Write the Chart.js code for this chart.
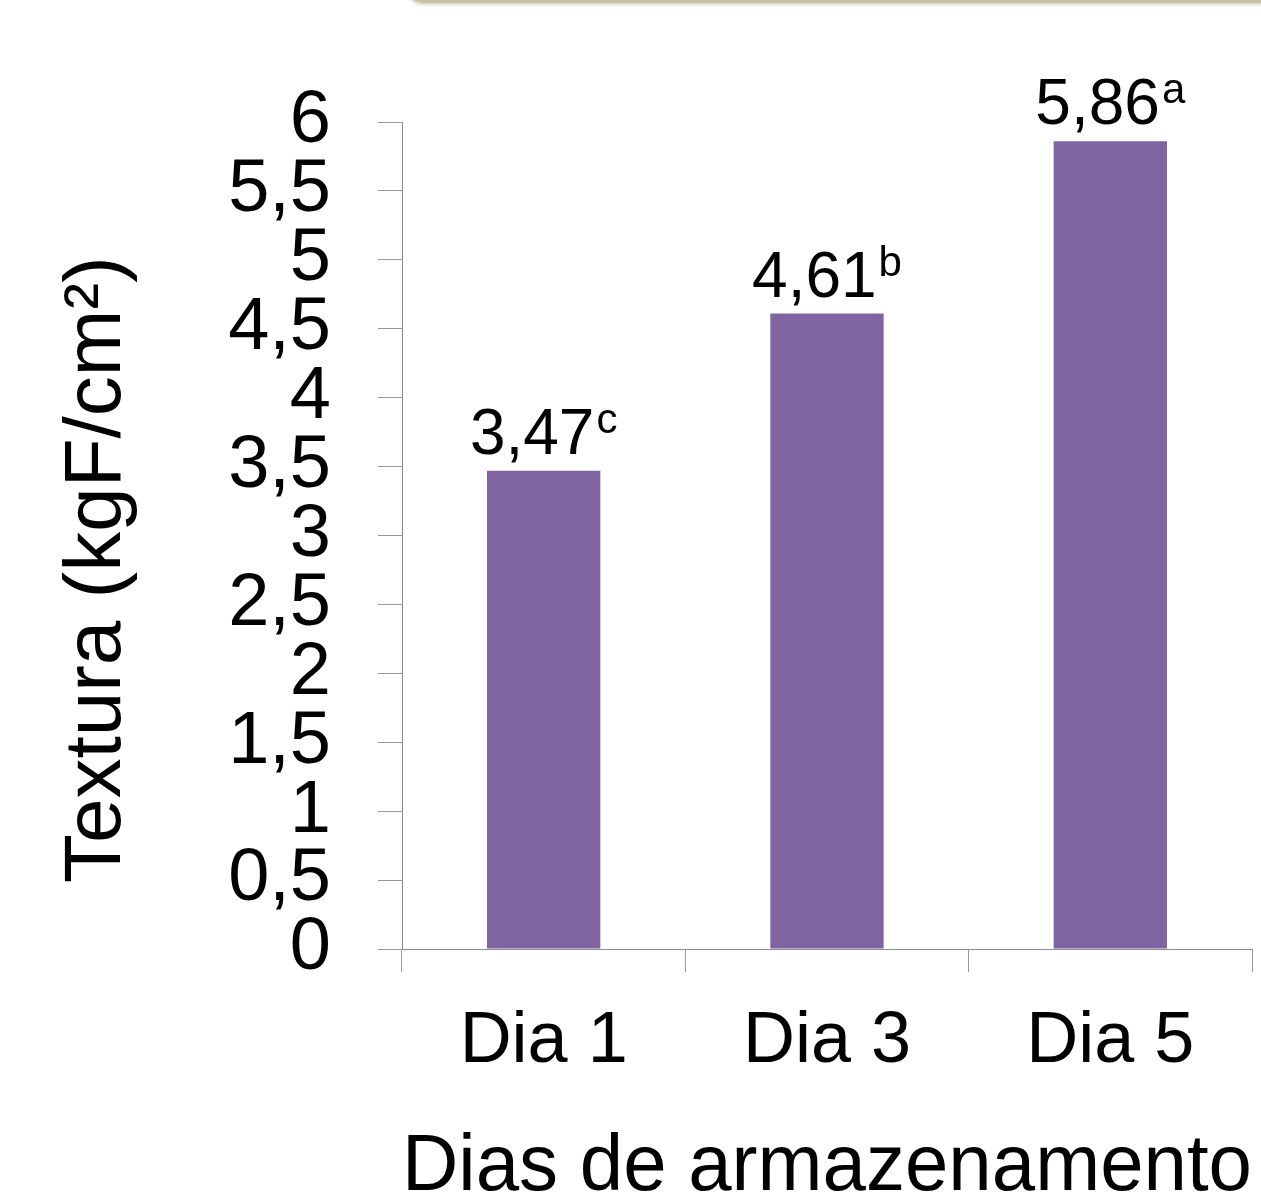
<!DOCTYPE html>
<html>
<head>
<meta charset="utf-8">
<script src="https://cdn.jsdelivr.net/npm/chart.js@4.4.1/dist/chart.umd.min.js"></script>
<style>
  html, body { margin: 0; padding: 0; background: #ffffff; overflow: hidden; }
  #wrap { position: relative; width: 1261px; height: 1200px; }
  #deco { position: absolute; left: 408px; top: -20px; width: 900px; height: 20px;
          border-bottom: 3px solid #c9c19b; border-left: 3px solid #c9c19b;
          border-bottom-left-radius: 14px; box-shadow: 0 2px 3px rgba(150,140,100,0.35); }
  canvas { position: absolute; left: 0; top: 0; }
</style>
</head>
<body>
<div id="wrap">
  <div id="deco"></div>
  <canvas id="c" width="1261" height="1200"></canvas>
</div>
<script>
const categories = ["Dia 1", "Dia 3", "Dia 5"];
const textura = [3.47, 4.61, 5.86];
const letters = ["c", "b", "a"];
const yTitle = "Textura (kgF/cm²)";
const xTitle = "Dias de armazenamento";

const FONT = "'Liberation Sans', Arial, sans-serif";
const fmt = v => String(v).replace('.', ',');

const labelPlugin = {
  id: 'barLabels',
  afterDatasetsDraw(chart) {
    const ctx = chart.ctx;
    const meta = chart.getDatasetMeta(0);
    ctx.save();
    ctx.fillStyle = '#000';
    ctx.textBaseline = 'alphabetic';
    meta.data.forEach((bar, i) => {
      const main = fmt(textura[i]);
      const sup = letters[i];
      ctx.font = `64px ${FONT}`;
      const w1 = ctx.measureText(main).width;
      ctx.font = `42px ${FONT}`;
      const w2 = ctx.measureText(sup).width;
      const total = w1 + 2 + w2;
      const x0 = bar.x - total / 2;
      const base = bar.y - 17;
      ctx.textAlign = 'left';
      ctx.font = `64px ${FONT}`;
      ctx.fillText(main, x0, base);
      ctx.font = `42px ${FONT}`;
      ctx.fillText(sup, x0 + w1 + 2, base - 21);
    });
    ctx.restore();
  }
};

const yTitlePlugin = {
  id: 'yTitle',
  afterDraw(chart) {
    const ctx = chart.ctx;
    ctx.save();
    ctx.translate(120, 883);
    ctx.rotate(-Math.PI / 2);
    ctx.font = `80px ${FONT}`;
    ctx.fillStyle = '#000';
    ctx.textAlign = 'left';
    ctx.textBaseline = 'alphabetic';
    ctx.fillText(yTitle, 0, 0);
    ctx.restore();
  }
};

new Chart(document.getElementById('c'), {
  type: 'bar',
  data: {
    labels: categories,
    datasets: [{
      data: textura,
      backgroundColor: '#8064A2',
      borderWidth: 0,
      barPercentage: 0.4,
      categoryPercentage: 1.0
    }]
  },
  options: {
    responsive: false,
    animation: false,
    devicePixelRatio: 1,
    layout: { padding: { top: 122, right: 9, left: 0, bottom: 0 } },
    plugins: { legend: { display: false }, tooltip: { enabled: false } },
    scales: {
      x: {
        offset: true,
        grid: { offset: true, drawOnChartArea: false, drawTicks: true, tickLength: 23, color: '#9a9a9a', lineWidth: 1 },
        border: { display: true, color: '#8c8c8c', width: 1 },
        ticks: { color: '#000', font: { family: FONT, size: 72 }, padding: 27, maxRotation: 0 },
        title: { display: true, text: xTitle, color: '#000', font: { family: FONT, size: 79, lineHeight: 0.8 }, padding: 0 },
        afterFit(scale) { scale.height = 251; }
      },
      y: {
        min: 0, max: 6,
        grid: { drawOnChartArea: false, drawTicks: true, tickLength: 24, color: '#9a9a9a', lineWidth: 1 },
        border: { display: true, color: '#8c8c8c', width: 1 },
        ticks: { stepSize: 0.5, autoSkip: false, color: '#000', font: { family: FONT, size: 74 }, padding: 47,
                 callback: v => fmt(v) },
        afterFit(scale) { scale.width = 402; }
      }
    }
  },
  plugins: [labelPlugin, yTitlePlugin]
});
</script>
</body>
</html>
